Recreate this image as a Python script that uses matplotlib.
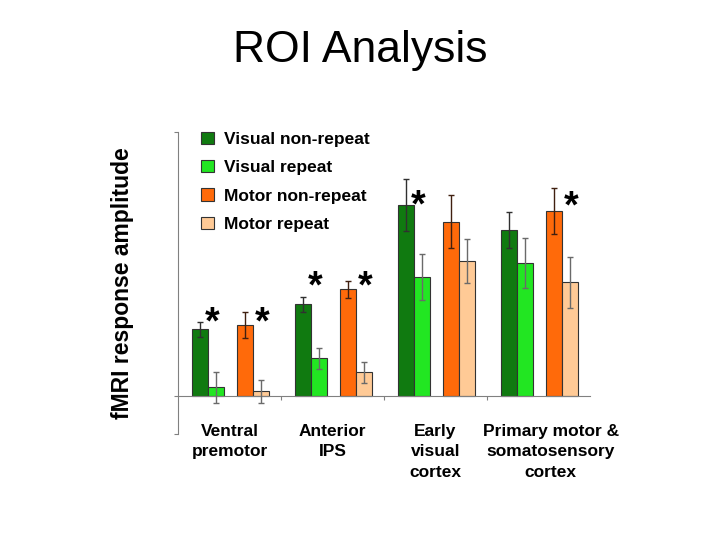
import matplotlib
matplotlib.use('Agg')
import matplotlib.pyplot as plt
import numpy as np

plt.rcParams['font.family'] = ['Liberation Sans', 'DejaVu Sans']

# data (arbitrary units, zero = baseline)
regions = ['Ventral\npremotor', 'Anterior\nIPS', 'Early\nvisual\ncortex',
           'Primary motor &\nsomatosensory\ncortex']
conditions = ['Visual non-repeat', 'Visual repeat', 'Motor non-repeat', 'Motor repeat']
visual_nonrep = [0.67, 0.92, 1.91, 1.66]
visual_rep = [0.09, 0.38, 1.19, 1.33]
motor_nonrep = [0.71, 1.07, 1.74, 1.85]
motor_rep = [0.05, 0.24, 1.35, 1.14]
visual_nonrep_err = [0.075, 0.075, 0.26, 0.175]
visual_rep_err = [0.155, 0.105, 0.23, 0.25]
motor_nonrep_err = [0.13, 0.085, 0.265, 0.23]
motor_rep_err = [0.115, 0.105, 0.215, 0.255]

# significance stars: (region index, condition pair, height)
stars_region = [0, 0, 1, 1, 2, 3]
stars_pair = ['visual', 'motor', 'visual', 'motor', 'visual', 'motor']
stars_height = [0.83, 0.83, 1.19, 1.19, 2.0, 1.99]

colors = ['#107a10', '#22e622', '#ff6a0a', '#ffca96']
ecolors = ['#303030', '#6a6a6a', '#402010', '#6a6a6a']
offsets = [0.214, 0.369, 0.650, 0.806]
width = 0.16

fig = plt.figure(figsize=(7.2, 5.4), dpi=100)
ax = fig.add_axes([178 / 720, 1 - 434 / 540, 412 / 720, 302 / 540])

x = np.arange(len(regions))
vals = [visual_nonrep, visual_rep, motor_nonrep, motor_rep]
errs = [visual_nonrep_err, visual_rep_err, motor_nonrep_err, motor_rep_err]
for i in range(4):
    ax.bar(x + offsets[i], vals[i], width, color=colors[i], edgecolor='#333333',
           linewidth=0.8, label=conditions[i], zorder=2)
    ax.errorbar(x + offsets[i], vals[i], yerr=errs[i], fmt='none', ecolor=ecolors[i],
                elinewidth=1, capsize=2.5, capthick=1, zorder=3)

for r, p, h in zip(stars_region, stars_pair, stars_height):
    sx = r + (0.33 if p == 'visual' else 0.816)
    ax.text(sx, h - 0.2, '*', ha='center', va='baseline', fontsize=27,
            fontweight='bold', color='black')

label_x = [0.5, 1.5, 2.5, 3.62]
for lx, name in zip(label_x, regions):
    ax.text(lx, -0.28, name, ha='center', va='top', fontsize=12.5,
            fontweight='bold', linespacing=1.45)

ax.set_xlim(0, 4)
ax.set_ylim(-0.38, 2.64)
for s in ['top', 'right']:
    ax.spines[s].set_visible(False)
ax.spines['bottom'].set_position(('data', 0))
ax.spines['bottom'].set_color('#808080')
ax.spines['left'].set_color('#808080')
ax.set_xticks([1, 2, 3])
ax.set_xticklabels([])
ax.set_yticks([-0.38, 0, 2.64])
ax.set_yticklabels([])
ax.tick_params(axis='x', direction='out', length=3, color='#808080')
ax.tick_params(axis='y', direction='out', length=3, color='#808080')

ax.set_ylabel('fMRI response amplitude', fontsize=16.5, fontweight='bold', labelpad=25)

leg = ax.legend(loc='upper left', bbox_to_anchor=(0.057, 1.0), frameon=False,
                prop={'size': 12.5, 'weight': 'bold'}, handlelength=0.7,
                handleheight=0.7, handletextpad=0.6, labelspacing=0.75,
                borderaxespad=0, borderpad=0)

fig.text(0.5, 1 - 62 / 540, 'ROI Analysis', ha='center', va='baseline', fontsize=32)

fig.savefig('out.png', dpi=100)
